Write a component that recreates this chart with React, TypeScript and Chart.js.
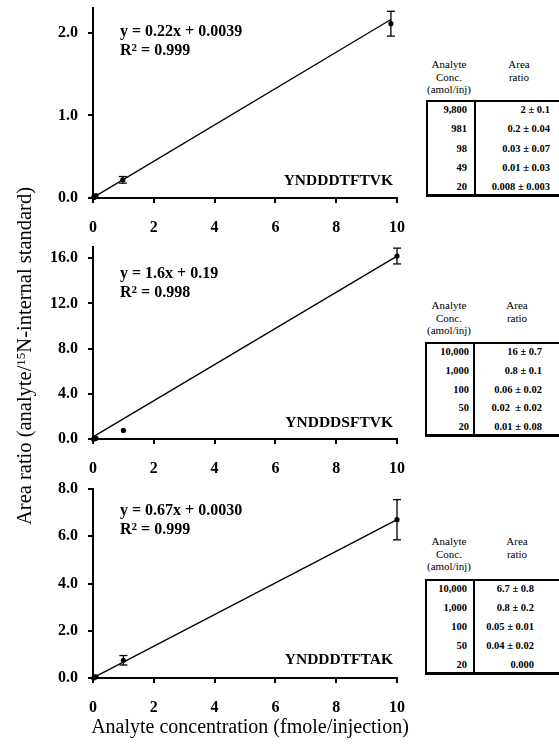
import React, { useEffect, useRef } from 'react';
import { Chart, registerables } from 'chart.js';

Chart.register(...registerables);

const SERIF = "'Times New Roman', 'Liberation Serif', Times, serif";

// ---- Panel 1: YNDDDTFTVK ----
const p1Conc = [0.02, 0.049, 0.098, 0.981, 9.8];
const p1Ratio = [0.008, 0.01, 0.03, 0.22, 2.11];
const p1Err = [0, 0, 0, 0.04, 0.15];
const p1FitX = [0, 9.8];
const p1FitY = [0.0039, 2.16];
const p1YMax = 2.3;
const p1YStep = 1;

// ---- Panel 2: YNDDDSFTVK ----
const p2Conc = [0.02, 0.05, 0.1, 1, 10];
const p2Ratio = [0.01, 0.02, 0.06, 0.76, 16.2];
const p2Err = [0, 0, 0, 0, 0.7];
const p2FitX = [0, 10];
const p2FitY = [0.19, 16.19];
const p2YMax = 17;
const p2YStep = 4;

// ---- Panel 3: YNDDDTFTAK ----
const p3Conc = [0.02, 0.05, 0.1, 1, 10];
const p3Ratio = [0, 0.04, 0.05, 0.75, 6.7];
const p3Err = [0, 0, 0, 0.2, 0.85];
const p3FitX = [0, 10];
const p3FitY = [0.003, 6.703];
const p3YMax = 8;
const p3YStep = 2;

const xMax = 10;
const xStep = 2;

// ---- Tables ----
const t1Conc = ['9,800', '981', '98', '49', '20'];
const t1Ratio = ['2 ± 0.1', '0.2 ± 0.04', '0.03 ± 0.07', '0.01 ± 0.03', '0.008 ± 0.003'];
const t2Conc = ['10,000', '1,000', '100', '50', '20'];
const t2Ratio = ['16 ± 0.7', '0.8 ± 0.1', '0.06 ± 0.02', '0.02  ± 0.02', '0.01 ± 0.08'];
const t3Conc = ['10,000', '1,000', '100', '50', '20'];
const t3Ratio = ['6.7 ± 0.8', '0.8 ± 0.2', '0.05 ± 0.01', '0.04 ± 0.02', '0.000'];

const equations = [
  { eq: 'y = 0.22x + 0.0039', r2: '0.999', name: 'YNDDDTFTVK' },
  { eq: 'y = 1.6x + 0.19', r2: '0.998', name: 'YNDDDSFTVK' },
  { eq: 'y = 0.67x + 0.0030', r2: '0.999', name: 'YNDDDTFTAK' },
];

type PanelProps = {
  conc: number[];
  ratio: number[];
  err: number[];
  fitX: number[];
  fitY: number[];
  yMax: number;
  yStep: number;
  axisTop: number;
  axisBottom: number;
};

const PAD_TOP = 20;
const X_AXIS_H = 50;
const CANVAS_W = 420;

function Panel(p: PanelProps) {
  const ref = useRef<HTMLCanvasElement | null>(null);
  const height = PAD_TOP + (p.axisBottom - p.axisTop) + X_AXIS_H;
  useEffect(() => {
    if (!ref.current) return;
    const errData: any[] = [];
    p.conc.forEach((x, i) => {
      if (p.err[i] > 0) {
        errData.push({ x, y: p.ratio[i] - p.err[i] });
        errData.push({ x, y: p.ratio[i] + p.err[i] });
        errData.push({ x, y: null });
      }
    });
    const tickFont = { family: SERIF, size: 16, weight: 'bold' as const };
    const grid = {
      display: true,
      drawOnChartArea: false,
      drawTicks: true,
      tickLength: 5,
      color: '#000',
      lineWidth: 2,
    };
    const chart = new Chart(ref.current, {
      type: 'scatter',
      data: {
        datasets: [
          {
            data: p.fitX.map((x, i) => ({ x, y: p.fitY[i] })),
            showLine: true,
            borderColor: '#000',
            borderWidth: 1.3,
            pointRadius: 0,
            clip: false,
          } as any,
          {
            data: errData,
            showLine: true,
            spanGaps: false,
            borderColor: '#000',
            borderWidth: 1.3,
            pointStyle: 'line',
            pointRadius: 4,
            pointBorderWidth: 1.3,
            pointBorderColor: '#000',
            clip: false,
          } as any,
          {
            data: p.conc.map((x, i) => ({ x, y: p.ratio[i] })),
            showLine: false,
            pointRadius: 2.6,
            pointBackgroundColor: '#000',
            pointBorderColor: '#000',
            pointBorderWidth: 0,
            clip: false,
          } as any,
        ],
      },
      options: {
        animation: false,
        responsive: false,
        maintainAspectRatio: false,
        layout: { padding: { top: PAD_TOP, right: 13, left: 0, bottom: 0 } },
        plugins: { legend: { display: false }, tooltip: { enabled: false } },
        scales: {
          x: {
            type: 'linear',
            min: 0,
            max: xMax,
            ticks: { stepSize: xStep, color: '#000', font: tickFont, padding: 15, maxRotation: 0 },
            grid,
            border: { display: true, color: '#000', width: 2 },
            afterFit: (s: any) => {
              s.height = X_AXIS_H;
            },
          },
          y: {
            type: 'linear',
            min: 0,
            max: p.yMax,
            ticks: {
              stepSize: p.yStep,
              includeBounds: false,
              color: '#000',
              font: tickFont,
              padding: 10,
              callback: (v: any) => Number(v).toFixed(1),
            },
            grid,
            border: { display: true, color: '#000', width: 2 },
            afterFit: (s: any) => {
              s.width = 93;
            },
          },
        },
      } as any,
    });
    return () => chart.destroy();
  }, []);
  return (
    <canvas
      ref={ref}
      width={CANVAS_W}
      height={height}
      style={{
        position: 'absolute',
        left: 0,
        top: p.axisTop - PAD_TOP,
        width: CANVAS_W,
        height,
      }}
    />
  );
}

type TableProps = {
  conc: string[];
  ratio: string[];
  headTop: number;
  col1Center: number;
  col2Center: number;
  top: number;
  bottom: number;
  left: number;
  divider: number;
  col1Right: number;
  col2Right: number;
};

function DataTable(t: TableProps) {
  const height = t.bottom - t.top;
  const rowH = (height - 20) / 4;
  const headStyle: React.CSSProperties = {
    position: 'absolute',
    fontFamily: SERIF,
    fontSize: 11,
    lineHeight: '12.5px',
    textAlign: 'center',
    transform: 'translateX(-50%)',
    whiteSpace: 'nowrap',
    color: '#000',
  };
  const cell: React.CSSProperties = {
    position: 'absolute',
    fontFamily: SERIF,
    fontSize: 10.5,
    fontWeight: 'bold',
    lineHeight: '12px',
    whiteSpace: 'pre',
    color: '#000',
    textAlign: 'right',
  };
  return (
    <>
      <div style={{ ...headStyle, left: t.col1Center, top: t.headTop - 6 }}>
        Analyte
        <br />
        Conc.
        <br />
        (amol/inj)
      </div>
      <div style={{ ...headStyle, left: t.col2Center, top: t.headTop - 6 }}>
        Area
        <br />
        ratio
      </div>
      <div
        style={{
          position: 'absolute',
          left: t.left,
          top: t.top,
          width: 600 - t.left,
          height,
          border: '2px solid #000',
          borderBottomWidth: 3,
          boxSizing: 'border-box',
        }}
      />
      <div
        style={{
          position: 'absolute',
          left: t.divider - 1,
          top: t.top,
          width: 2,
          height,
          background: '#000',
        }}
      />
      {t.conc.map((c, i) => (
        <div key={'c' + i} style={{ ...cell, right: 559 - t.col1Right, top: t.top + 10 + rowH * i - 6 }}>
          {c}
        </div>
      ))}
      {t.ratio.map((r, i) => (
        <div key={'r' + i} style={{ ...cell, right: 559 - t.col2Right, top: t.top + 10 + rowH * i - 6 }}>
          {r}
        </div>
      ))}
    </>
  );
}

export default function App() {
  const panelTops = [8, 247, 489];
  const panelBottoms = [198, 439, 678];
  const eqStyle: React.CSSProperties = {
    position: 'absolute',
    left: 120,
    fontFamily: SERIF,
    fontSize: 16,
    fontWeight: 'bold',
    lineHeight: '18px',
    whiteSpace: 'nowrap',
    color: '#000',
  };
  const eqCenters = [31, 273, 510];
  const nameCenters = [180, 422, 659];
  return (
    <div
      style={{
        position: 'fixed',
        left: 0,
        top: 0,
        width: 559,
        height: 749,
        overflow: 'hidden',
        background: '#fff',
      }}
    >
      <Panel conc={p1Conc} ratio={p1Ratio} err={p1Err} fitX={p1FitX} fitY={p1FitY} yMax={p1YMax} yStep={p1YStep} axisTop={panelTops[0]} axisBottom={panelBottoms[0]} />
      <Panel conc={p2Conc} ratio={p2Ratio} err={p2Err} fitX={p2FitX} fitY={p2FitY} yMax={p2YMax} yStep={p2YStep} axisTop={panelTops[1]} axisBottom={panelBottoms[1]} />
      <Panel conc={p3Conc} ratio={p3Ratio} err={p3Err} fitX={p3FitX} fitY={p3FitY} yMax={p3YMax} yStep={p3YStep} axisTop={panelTops[2]} axisBottom={panelBottoms[2]} />

      {equations.map((e, i) => (
        <React.Fragment key={i}>
          <div style={{ ...eqStyle, top: eqCenters[i] - 9 }}>{e.eq}</div>
          <div style={{ ...eqStyle, top: eqCenters[i] + 10 }}>
            R<sup style={{ fontSize: 11, verticalAlign: 'top', position: 'relative', top: -3 }}>2</sup> = {e.r2}
          </div>
          <div
            style={{
              ...eqStyle,
              left: undefined,
              right: 559 - 393,
              fontSize: 15.5,
              top: nameCenters[i] - 9,
            }}
          >
            {e.name}
          </div>
        </React.Fragment>
      ))}

      <DataTable conc={t1Conc} ratio={t1Ratio} headTop={64} col1Center={449} col2Center={519} top={100} bottom={197} left={426} divider={475} col1Right={467} col2Right={550} />
      <DataTable conc={t2Conc} ratio={t2Ratio} headTop={305} col1Center={449} col2Center={517} top={342} bottom={437} left={425} divider={474} col1Right={469} col2Right={542} />
      <DataTable conc={t3Conc} ratio={t3Ratio} headTop={541} col1Center={449} col2Center={517} top={579} bottom={675} left={425} divider={474} col1Right={467} col2Right={534} />

      <div
        style={{
          position: 'absolute',
          left: 24,
          top: 356,
          transform: 'translate(-50%, -50%) rotate(-90deg)',
          fontFamily: SERIF,
          fontSize: 20.5,
          lineHeight: '20px',
          whiteSpace: 'nowrap',
          color: '#000',
        }}
      >
        Area ratio (analyte/<sup style={{ fontSize: 13, verticalAlign: 'top', position: 'relative', top: -3 }}>15</sup>N-internal standard)
      </div>
      <div
        style={{
          position: 'absolute',
          left: 250,
          top: 726,
          transform: 'translate(-50%, -50%)',
          fontFamily: SERIF,
          fontSize: 20,
          lineHeight: '22px',
          whiteSpace: 'nowrap',
          color: '#000',
        }}
      >
        Analyte concentration (fmole/injection)
      </div>
    </div>
  );
}
